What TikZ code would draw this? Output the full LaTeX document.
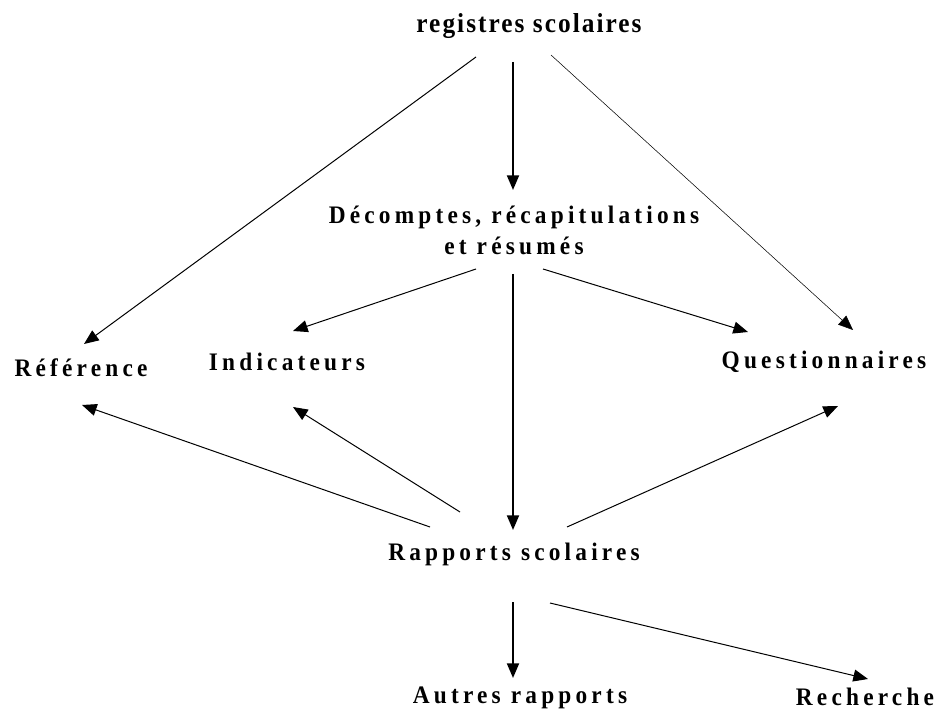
\documentclass[tikz,border=0pt]{standalone}
\usepackage{fontspec}
\setmainfont{Liberation Serif}
\newfontfamily\lblfont[LetterSpace=18]{Liberation Serif}
\newfontfamily\topfont[LetterSpace=8]{Liberation Serif}
\newcommand\tall[1]{\scalebox{1}[1.08]{#1}}
\usetikzlibrary{arrows.meta}
\begin{document}
\begin{tikzpicture}[x=0.75pt,y=-0.75pt,
    lbl/.style={anchor=base,inner sep=0pt,font=\lblfont\bfseries\fontsize{17.5}{23.25}\selectfont},
    arr/.style={line width=0.75pt,-{Triangle[length=11pt,width=9pt]}},
    thickarr/.style={arr,line width=1.4pt},
    thinarr/.style={arr,line width=0.4pt}]
    \useasboundingbox (0,0) rectangle (936,709);

    \node[lbl,font=\topfont\bfseries\fontsize{19}{22}\selectfont] (reg) at (529,33) {\tall{registres scolaires}};
    \node[lbl,align=center] (dec) at (514,255) {\tall{Décomptes, récapitulations}\\\tall{et résumés}};
    \node[lbl] (ref) at (81,377) {\tall{Référence}};
    \node[lbl] (ind) at (287,371) {\tall{Indicateurs}};
    \node[lbl] (que) at (824,369) {\tall{Questionnaires}};
    \node[lbl] (rap) at (514,560) {\tall{Rapports scolaires}};
    \node[lbl] (aut) at (520,703) {\tall{Autres rapports}};
    \node[lbl] (rec) at (865,705) {\tall{Recherche}};

    \coordinate (reg-l) at (476,57);   \coordinate (ref-t) at (84,344);
    \coordinate (reg-m) at (513,62);   \coordinate (dec-t) at (513,190);
    \coordinate (reg-r) at (551,55);   \coordinate (que-tr) at (853,330);
    \coordinate (dec-l) at (476,269);  \coordinate (ind-t) at (293,331);
    \coordinate (dec-r) at (543,269);  \coordinate (que-tl) at (748,332);
    \coordinate (dec-m) at (513,274);  \coordinate (rap-t) at (513,530);
    \coordinate (rap-l) at (430,527);  \coordinate (ref-b) at (82,405);
    \coordinate (rap-ml) at (460,512); \coordinate (ind-b) at (293,407);
    \coordinate (rap-r) at (567,527);  \coordinate (que-b) at (838,406);
    \coordinate (rap-m) at (513,602);  \coordinate (aut-t) at (513,678);
    \coordinate (rap-mr) at (550,603); \coordinate (rec-t) at (868,679);

    \draw[arr] (reg-l) -- (ref-t);
    \draw[thickarr] (reg-m) -- (dec-t);
    \draw[thinarr] (reg-r) -- (que-tr);
    \draw[arr] (dec-l) -- (ind-t);
    \draw[arr] (dec-r) -- (que-tl);
    \draw[thickarr] (dec-m) -- (rap-t);
    \draw[arr] (rap-l) -- (ref-b);
    \draw[arr] (rap-ml) -- (ind-b);
    \draw[arr] (rap-r) -- (que-b);
    \draw[thickarr] (rap-m) -- (aut-t);
    \draw[arr] (rap-mr) -- (rec-t);
\end{tikzpicture}
\end{document}
